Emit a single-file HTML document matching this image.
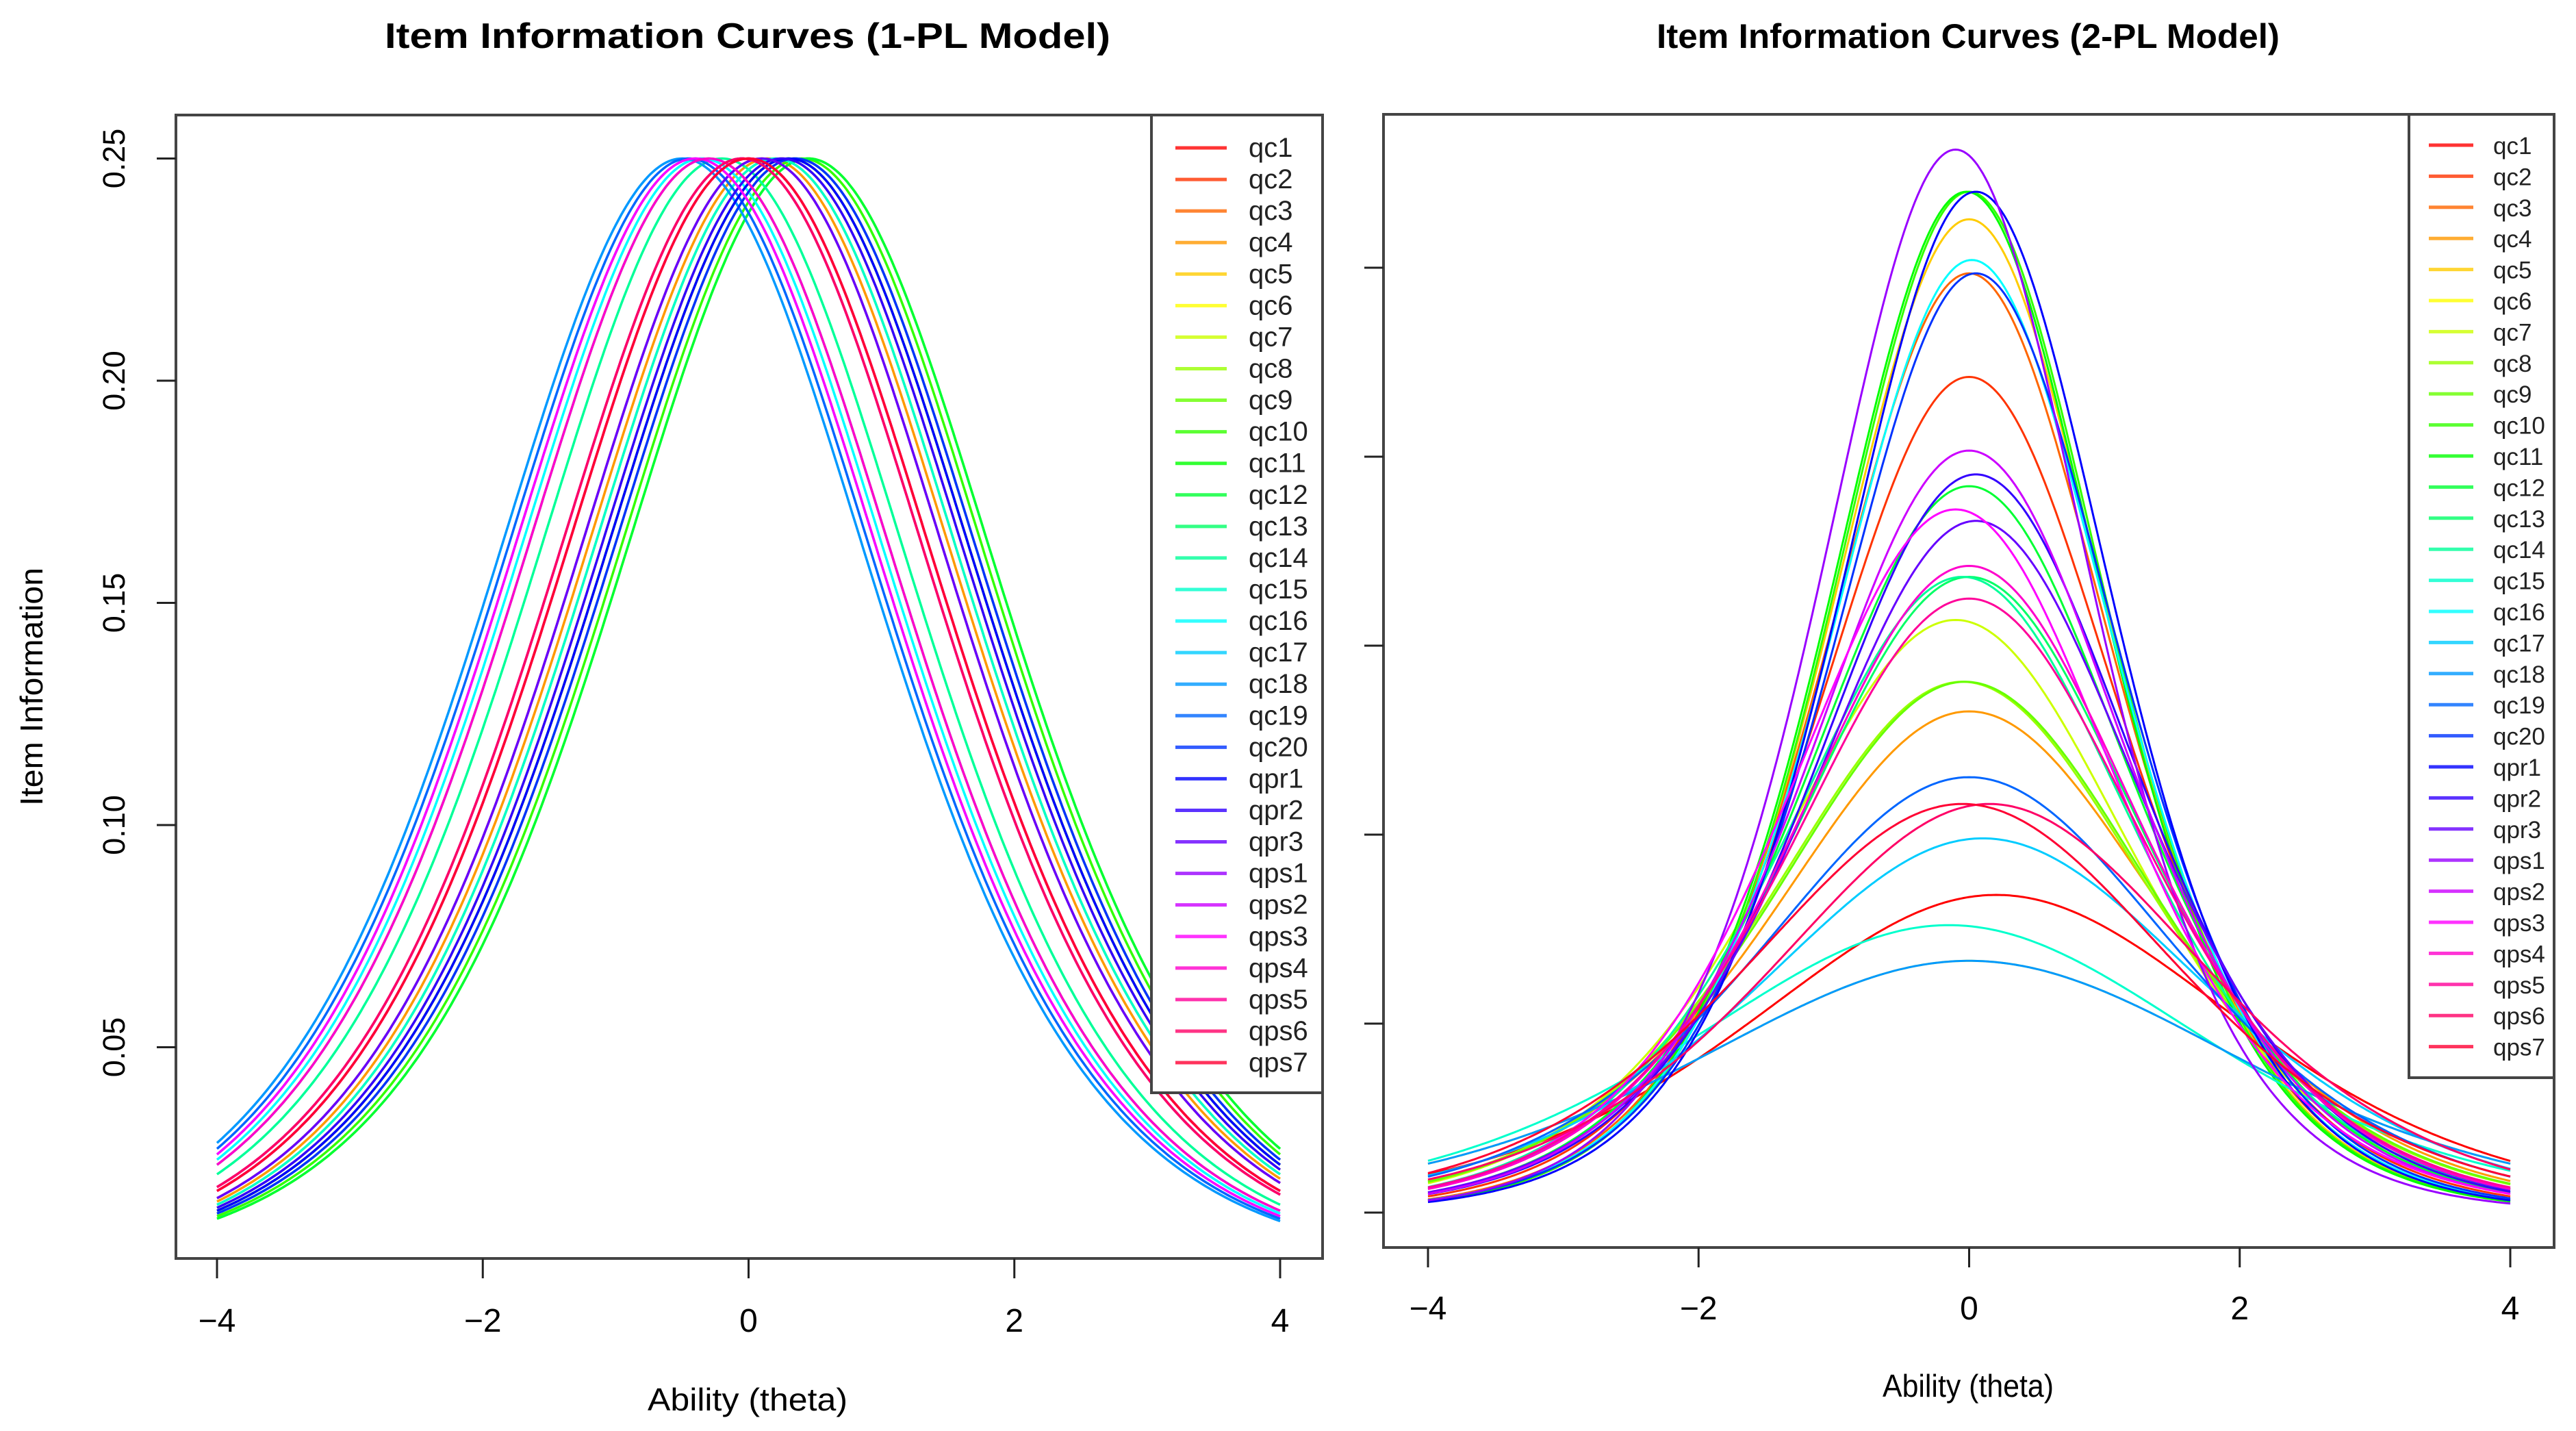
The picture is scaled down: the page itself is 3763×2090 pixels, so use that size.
<!DOCTYPE html>
<html><head><meta charset="utf-8"><style>
html,body{margin:0;padding:0;background:#fff;}
svg{display:block;font-family:"Liberation Sans",Arial,sans-serif;}
</style></head><body>
<svg id="chart" width="3763" height="2090" viewBox="0 0 3763 2090" xmlns="http://www.w3.org/2000/svg">
<rect width="3763" height="2090" fill="#fff"/>
<text x="1092" y="70" text-anchor="middle" font-size="52" font-weight="bold" textLength="1060" lengthAdjust="spacingAndGlyphs">Item Information Curves (1-PL Model)</text>
<text x="2875" y="70" text-anchor="middle" font-size="50" font-weight="bold" textLength="910" lengthAdjust="spacingAndGlyphs">Item Information Curves (2-PL Model)</text>
<text x="1092" y="2060" text-anchor="middle" font-size="46" textLength="292" lengthAdjust="spacingAndGlyphs">Ability (theta)</text>
<text x="2875" y="2040" text-anchor="middle" font-size="46" textLength="250" lengthAdjust="spacingAndGlyphs">Ability (theta)</text>
<text x="0" y="0" transform="translate(62,1003) rotate(-90)" text-anchor="middle" font-size="46" textLength="348" lengthAdjust="spacingAndGlyphs">Item Information</text>
<g id="p1"></g><g id="p2"></g>
</svg>
<script>
const itemsAll = ["qc1","qc2","qc3","qc4","qc5","qc6","qc7","qc8","qc9","qc10","qc11","qc12","qc13","qc14","qc15","qc16","qc17","qc18","qc19","qc20","qpr1","qpr2","qpr3","qps1","qps2","qps3","qps4","qps5","qps6","qps7"];
const b1pl = [0.0,-0.05,0.1,0.15,0.2,0.25,0.3,0.35,0.45,0.4,0.3,0.45,-0.3,-0.2,0.2,-0.35,-0.4,-0.5,-0.45,0.35,0.3,0.25,0.1,-0.05,0.0,-0.4,-0.3,0.0,-0.05,0.0];
const a2pl = [0.82,1.33,1.41,1.03,1.45,0.73,1.12,1.06,1.06,1.47,1.47,1.24,1.16,1.16,0.78,1.42,0.89,0.73,0.96,1.41,1.47,1.25,1.21,1.50,1.27,1.22,1.17,1.14,0.93,0.93];
const b2pl = [0.2,0.0,0.0,0.0,0.0,0.0,-0.1,-0.05,-0.03,0.0,-0.02,0.0,0.0,-0.05,-0.15,0.02,0.1,0.0,0.0,0.05,0.05,0.05,0.05,-0.1,0.0,-0.1,0.0,0.0,0.15,-0.05];
const xTicks = [-4,-2,0,2,4];
const yTicks1 = [0.05,0.10,0.15,0.20,0.25];
const yTickLabels1 = ["0.05","0.10","0.15","0.20","0.25"];
const yTicks2 = [0,0.1,0.2,0.3,0.4,0.5];

const NS="http://www.w3.org/2000/svg";
function mk(parent,tag,attrs){const e=document.createElementNS(NS,tag);for(const k in attrs)e.setAttribute(k,attrs[k]);parent.appendChild(e);return e;}
const n = itemsAll.length;
function color(i){return `hsl(${Math.round(360*i/n)},100%,50%)`;}
function info(a,b,t){const p=1/(1+Math.exp(-a*(t-b)));return a*a*p*(1-p);}

function panel(g,cfg){
  const sx=t=>cfg.x0+(t+4)/8*(cfg.x1-cfg.x0);
  const sy=v=>cfg.yz-v*cfg.yk;
  itemsAll.forEach((name,i)=>{
    let d="";
    for(let k=0;k<=400;k++){const t=-4+8*k/400;d+=(k?"L":"M")+sx(t).toFixed(1)+","+sy(info(cfg.a[i],cfg.b[i],t)).toFixed(1);}
    const p=mk(g,"path",{d:d,fill:"none",stroke:color(i),"stroke-width":cfg.lw});
    
    
  });
  const box=mk(g,"rect",{x:cfg.bx0,y:cfg.by0,width:cfg.bx1-cfg.bx0,height:cfg.by1-cfg.by0,fill:"none",stroke:"#444","stroke-width":4});
  
  
  xTicks.forEach(t=>{
    const l=mk(g,"line",{x1:sx(t),x2:sx(t),y1:cfg.by1,y2:cfg.by1+29,stroke:"#222","stroke-width":3});
    
    
    const tx=mk(g,"text",{x:sx(t),y:cfg.xly,"text-anchor":"middle","font-size":48});
    tx.textContent=(t<0?"\u2212":"")+Math.abs(t);
    
    
  });
  cfg.yt.forEach((v,j)=>{
    const l=mk(g,"line",{x1:cfg.bx0-28,x2:cfg.bx0,y1:sy(v),y2:sy(v),stroke:"#222","stroke-width":3});
    
    
    if(cfg.ytl){
      const tx=mk(g,"text",{x:0,y:0,transform:`translate(182,${sy(v)}) rotate(-90)`,"text-anchor":"middle","font-size":45});
      tx.textContent=cfg.ytl[j];
      
      
    }
  });
  const lg=mk(g,"g",{});
  
  
  const lb=mk(lg,"rect",{x:cfg.lx0,y:cfg.by0,width:cfg.bx1-cfg.lx0,height:cfg.ly1-cfg.by0,fill:"#fff",stroke:"#444","stroke-width":4});
  
  
  itemsAll.forEach((name,i)=>{
    const y=cfg.l0+i*cfg.ls;
    const e=mk(lg,"g",{});
    
    
    mk(e,"line",{x1:cfg.lsx0,x2:cfg.lsx1,y1:y,y2:y,stroke:color(i),"stroke-width":5,"stroke-opacity":0.8});
    const tx=mk(e,"text",{x:cfg.ltx,y:y+13,"font-size":cfg.lfs,fill:"#222"});
    tx.textContent=name;
  });
}
panel(document.getElementById("p1"),{x0:317,x1:1870,yz:1854,yk:6490,bx0:257,bx1:1932,by0:168,by1:1838,xly:1945,
  a:itemsAll.map(()=>1),b:b1pl,lw:3.5,yt:yTicks1,ytl:yTickLabels1,lx0:1682,ly1:1596,l0:216,ls:46.07,lsx0:1717,lsx1:1792,ltx:1824,lfs:40});
panel(document.getElementById("p2"),{x0:2086,x1:3667,yz:1771,yk:2760,bx0:2021,bx1:3731,by0:167,by1:1822,xly:1927,
  a:a2pl,b:b2pl,lw:3,yt:yTicks2,ytl:null,lx0:3519,ly1:1574,l0:212,ls:45.4,lsx0:3548,lsx1:3613,ltx:3642,lfs:35});
</script>
</body></html>
